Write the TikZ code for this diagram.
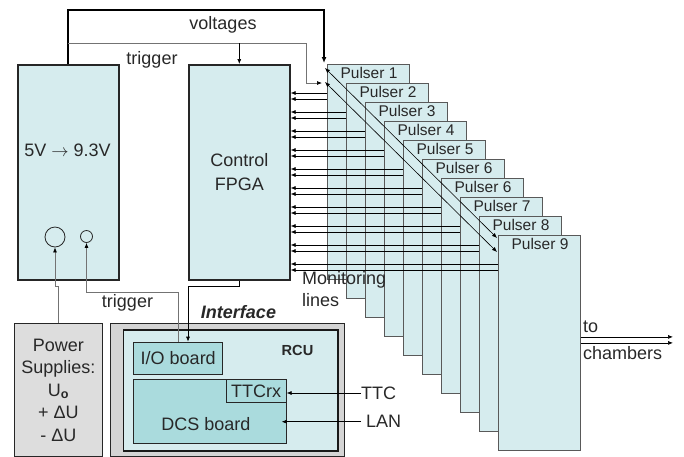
\documentclass[tikz,border=0pt]{standalone}
\usepackage{fontspec}
\setmainfont{Liberation Sans}
\usetikzlibrary{arrows.meta,positioning}

\definecolor{boxcyan}{RGB}{214,236,238}
\definecolor{boardcyan}{RGB}{170,219,221}
\definecolor{supplygray}{RGB}{221,221,221}
\definecolor{bandgray}{RGB}{212,212,212}
\definecolor{txtgray}{RGB}{40,40,40}

\begin{document}
\begin{tikzpicture}[
      x=1pt, y=-1pt,
      font=\fontsize{18}{22.5}\selectfont,
      txt/.style={text=txtgray, inner sep=0pt},
      bigbox/.style={draw=black!85, line width=1.6pt, fill=boxcyan,
        anchor=north west, inner sep=0pt, minimum width=101pt,
        minimum height=215pt},
      pulser/.style={draw=black!65, line width=0.8pt, fill=boxcyan,
        anchor=north west, inner sep=0pt, minimum width=82pt,
        minimum height=215pt},
      pulsertext/.style={txt, font=\fontsize{15.5}{18}\selectfont},
      board/.style={draw=black!85, line width=0.9pt, fill=boardcyan,
        anchor=north west, inner sep=0pt},
      knob/.style={circle, draw=black!85, line width=0.8pt, inner sep=0pt},
      arrow/.style={-{Latex[length=5pt,width=4pt]}, line width=0.7pt, draw=black},
      feed/.style={-{Latex[length=5pt,width=4pt,color=black]}, line width=0.7pt,
        draw=black!55},
      twoway/.style={{Latex[length=5pt,width=4pt]}-{Latex[length=5pt,width=4pt]},
        line width=0.6pt, draw=black}
    ]
    \useasboundingbox (0,0) rectangle (684,456);

    % converter and control
    \node[bigbox] (conv) at (17,64) {};
    \node[txt] (convlbl) at (67.5,150) {5V $\rightarrow$ 9.3V};
    \node[knob, minimum size=20pt] (bigknob) at (55,237) {};
    \node[knob, minimum size=12pt] (smallknob) at (86.5,236.5) {};
    \node[bigbox, align=center, text=txtgray,
      font=\fontsize{18}{24.5}\selectfont] (fpga) at (188,64) {Control\\FPGA};

    % pulsers, stacked
    \foreach \i/\n in {1/1,2/2,3/3,4/4,5/5,6/6,7/6,8/7,9/8,10/9} {
      \node[pulser] (pulser\i) at ({327+19*(\i-1)},{64+19*(\i-1)}) {};
      \node[pulsertext] (plabel\i) at ({369+19*(\i-1)},{73+19*(\i-1)}) {Pulser \n};
    }

    % monitoring lines
    \foreach \i in {1,...,10} {
      \coordinate (mona\i) at ([yshift=-29pt]pulser\i.north west);
      \coordinate (monb\i) at ([yshift=-35pt]pulser\i.north west);
      \draw[arrow] (mona\i) -- (mona\i -| fpga.east);
      \draw[arrow] (monb\i) -- (monb\i -| fpga.east);
    }
    \node[txt, anchor=north west, align=left] (monlbl) at (302,271) {Monitoring\\lines};

    % voltages and trigger
    \coordinate (vtop) at (324,10);
    \coordinate (vin) at (324,63);
    \draw[arrow, line width=1.8pt, -{Latex[length=6pt,width=5pt]}]
      (conv.north) |- (vtop) -- (vin);
    \node[txt] (voltlbl) at (223,25) {voltages};
    \coordinate (trigtap) at (67.5,43);
    \coordinate (trigturn) at (306,43);
    \coordinate (tin) at (322,83);
    \draw[feed] (trigtap) -- (trigturn) |- (tin);
    \draw[arrow] (fpga.north |- trigtap) -- (fpga.north);
    \node[txt] (triglbl) at (152,60) {trigger};

    % distribution to the pulsers
    \coordinate (da) at (325,68);
    \coordinate (db) at (497,238);
    \coordinate (dc) at (325,82);
    \coordinate (dd) at (497,252);
    \draw[twoway] (da) -- (db);
    \draw[twoway] (dc) -- (dd);

    % outputs
    \coordinate (chamb) at (673,342);
    \coordinate (outa) at ([yshift=6pt]pulser10.east);
    \draw[arrow] (outa) -- (outa -| chamb);
    \draw[arrow] (pulser10.east) -- (pulser10.east -| chamb);
    \node[txt, anchor=west] (tolbl) at (583,326.7) {to};
    \node[txt, anchor=west] (chamblbl) at (583,353) {chambers};

    % power supplies
    \node[draw=black!85, line width=1.2pt, fill=supplygray, anchor=north west,
      minimum width=88.5pt, minimum height=133pt, inner sep=0pt,
      align=center, text=txtgray] (supply) at (13.5,323)
      {Power\\Supplies:\\U\textsubscript{\textbf{o}}\\+ ΔU\\- ΔU};
    \draw[feed] (supply.north) -- ++(0,-37) -| (bigknob.south);

    % interface
    \node[draw=black!85, line width=1.2pt, fill=bandgray, anchor=north west,
      minimum width=234pt, minimum height=133pt, inner sep=0pt] (iface) at (110,323) {};
    \node[draw=black!90, line width=1.6pt, fill=boxcyan, anchor=north west,
      minimum width=214.6pt, minimum height=121pt, inner sep=0pt] (rcu) at (122.7,329) {};
    \node[txt, font=\fontsize{14.6}{17}\selectfont\bfseries] (rculbl) at (297.5,350.7) {RCU};
    \node[txt, font=\fontsize{18}{22}\selectfont\bfseries\itshape] (ifacelbl) at (238.5,311.7) {Interface};
    \node[board, minimum width=89pt, minimum height=32.3pt, text=txtgray] (ioboard) at (133.3,341.7) {I/O board};
    \node[board, minimum width=152.4pt, minimum height=64pt] (dcs) at (133.3,379) {};
    \node[txt] (dcslbl) at (206,424.3) {DCS board};
    \node[board, minimum width=60pt, minimum height=23pt, text=txtgray] (ttcrx) at (225.7,379) {TTCrx};
    \draw[feed] (ioboard.north) -- ++(0,-49) -| (smallknob.south);
    \node[txt] (trig2lbl) at (127.5,302.7) {trigger};
    \draw[arrow] (fpga.south) -- ++(0,6) -| (ioboard.north -| fpga.west);

    \node[txt, anchor=west] (ttc) at (361,393) {TTC};
    \node[txt, anchor=west] (lan) at (366,421.7) {LAN};
    \draw[arrow] (ttc.west) -- (ttc.west -| ttcrx.east);
    \draw[arrow] ([xshift=-5pt]lan.west) -- ([xshift=-5pt]lan.west -| dcs.east);
  \end{tikzpicture}
\end{document}
